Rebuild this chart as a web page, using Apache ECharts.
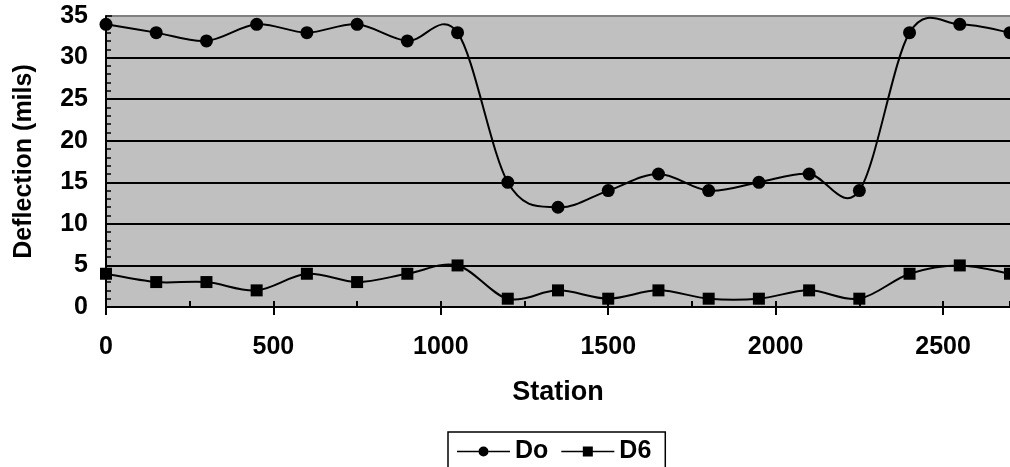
<!DOCTYPE html>
<html>
<head>
<meta charset="utf-8">
<script src="https://cdn.jsdelivr.net/npm/echarts@6/dist/echarts.min.js"></script>
<style>
html,body{margin:0;padding:0;background:#fff;}
#chart{width:1010px;height:467px;}
</style>
</head>
<body>
<div id="chart"></div>
<script>
var stations = [0,150,300,450,600,750,900,1050,1200,1350,1500,1650,1800,1950,2100,2250,2400,2550,2700];
var doValues = [34,33,32,34,33,34,32,33,15,12,14,16,14,15,16,14,33,34,33];
var d6Values = [4,3,3,2,4,3,4,5,1,2,1,2,1,1,2,1,4,5,4];
var yTicks = [0,5,10,15,20,25,30,35];
var xTickInterval = 500;

function pairs(xs, ys){ return xs.map(function(x,i){ return [x, ys[i]]; }); }

// Excel-like smoothed curve (Catmull-Rom Bezier) through points mapped by the axes
function curveRenderer(xs, ys){
  return function(params, api){
    if (params.dataIndex !== 0) return null;
    var p = xs.map(function(x,i){ return api.coord([x, ys[i]]); });
    var n = p.length;
    var d = 'M' + p[0][0] + ',' + p[0][1];
    for (var i = 0; i < n-1; i++){
      var p0 = p[i-1 < 0 ? 0 : i-1], p1 = p[i], p2 = p[i+1], p3 = p[i+2 > n-1 ? n-1 : i+2];
      var c1x = p1[0] + (p2[0]-p0[0])/6, c1y = p1[1] + (p2[1]-p0[1])/6;
      var c2x = p2[0] - (p3[0]-p1[0])/6, c2y = p2[1] - (p3[1]-p1[1])/6;
      d += 'C' + c1x + ',' + c1y + ',' + c2x + ',' + c2y + ',' + p2[0] + ',' + p2[1];
    }
    return {type:'path', shape:{pathData:d}, style:{stroke:'#000', lineWidth:2, fill:null}};
  };
}

var FONT = '"Liberation Sans", Arial, sans-serif';
var chart = echarts.init(document.getElementById('chart'), null, {renderer:'canvas'});
var splitColors = yTicks.map(function(v,i){ return i === yTicks.length-1 ? '#808080' : '#000000'; });

var iconDo = 'path://M0,4.3L21.5,4.3L21.5,5.7L0,5.7Z M31.5,4.3L53,4.3L53,5.7L31.5,5.7Z M21.5,5A5,5 0 1 0 31.5,5A5,5 0 1 0 21.5,5Z';
var iconD6 = 'path://M0,4.3L21.5,4.3L21.5,5.7L0,5.7Z M31.5,4.3L53,4.3L53,5.7L31.5,5.7Z M21.5,0L31.5,0L31.5,10L21.5,10Z';

chart.setOption({
  animation: false,
  backgroundColor: '#ffffff',
  grid: {left:106, top:16, bottom:160, right:-7, show:true, backgroundColor:'#c0c0c0', borderWidth:0},
  legend: {
    left: 448, top: 432, padding:[7,14,9,9],
    borderColor:'#000', borderWidth:1.5,
    itemWidth:53, itemHeight:10, itemGap:13,
    textStyle:{fontFamily:FONT, fontWeight:'bold', fontSize:25, color:'#000'},
    data:[{name:'Do', icon:iconDo}, {name:'D6', icon:iconD6}]
  },
  xAxis: [{
    type:'value', min:0, max:2700, interval:xTickInterval,
    name:'Station', nameLocation:'middle', nameGap:72,
    nameTextStyle:{fontFamily:FONT, fontWeight:'bold', fontSize:27, color:'#000'},
    axisLine:{show:true, onZero:false, lineStyle:{color:'#000', width:2}},
    axisTick:{show:true, length:8, lineStyle:{color:'#000', width:2}},
    axisLabel:{fontFamily:FONT, fontWeight:'bold', fontSize:25, color:'#000', margin:28, showMaxLabel:false,
      formatter:function(v){ return String(v); }},
    splitLine:{show:false}
  },{
    type:'value', min:0, max:2700, interval:250, position:'bottom',
    axisLine:{show:false},
    axisTick:{show:true, inside:true, length:6, lineStyle:{color:'#000', width:2}},
    axisLabel:{show:false},
    splitLine:{show:false}
  }],
  yAxis: {
    type:'value', min:0, max:35, interval:5,
    name:'Deflection (mils)', nameLocation:'middle', nameGap:69, nameRotate:90,
    nameTextStyle:{fontFamily:FONT, fontWeight:'bold', fontSize:25, color:'#000'},
    axisLine:{show:true, lineStyle:{color:'#000', width:2}},
    axisTick:{show:true, inside:true, length:6, lineStyle:{color:'#000', width:1.5}},
    minorTick:{show:true, splitNumber:5, length:5, lineStyle:{color:'#000', width:1.5}},
    axisLabel:{fontFamily:FONT, fontWeight:'bold', fontSize:25, color:'#000', margin:18},
    splitLine:{show:true, lineStyle:{color:splitColors, width:2}}
  },
  series: [{
    name:'Do curve', type:'custom', data:pairs(stations, doValues), encode:{x:0, y:1},
    renderItem:curveRenderer(stations, doValues), z:2, silent:true
  },{
    name:'D6 curve', type:'custom', data:pairs(stations, d6Values), encode:{x:0, y:1},
    renderItem:curveRenderer(stations, d6Values), z:2, silent:true
  },{
    name:'Do', type:'line', data:pairs(stations, doValues),
    symbol:'circle', symbolSize:13, showAllSymbol:true, z:3,
    itemStyle:{color:'#000'}, lineStyle:{opacity:0}
  },{
    name:'D6', type:'line', data:pairs(stations, d6Values),
    symbol:'rect', symbolSize:12, showAllSymbol:true, z:3,
    itemStyle:{color:'#000'}, lineStyle:{opacity:0}
  }]
});
</script>
</body>
</html>
